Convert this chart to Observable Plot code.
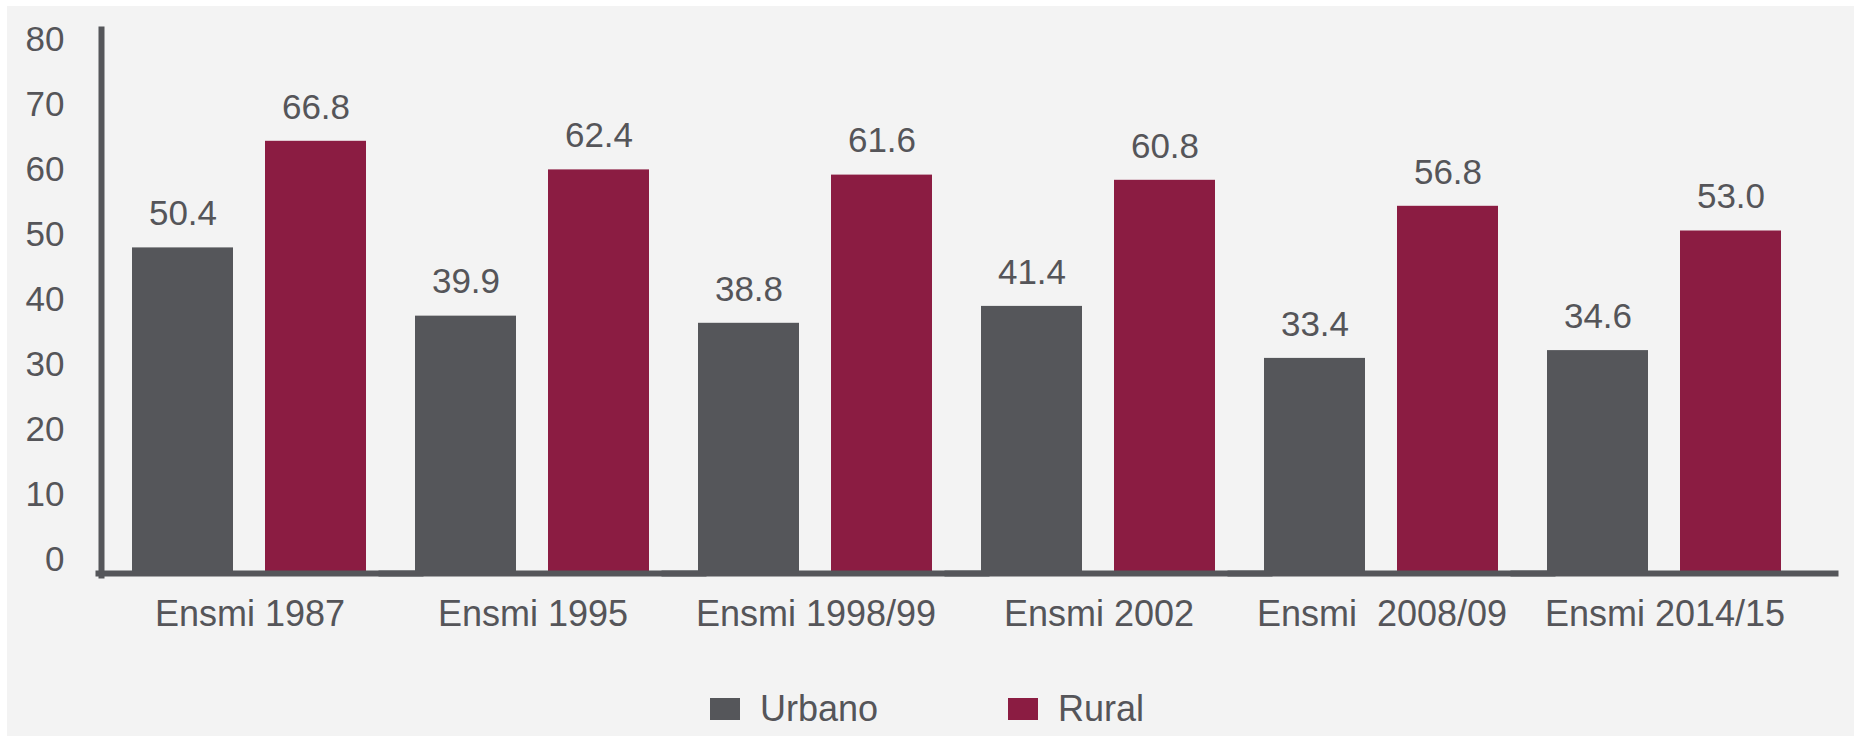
<!DOCTYPE html>
<html>
<head>
<meta charset="utf-8">
<script src="https://cdn.jsdelivr.net/npm/d3@7"></script>
<script src="https://cdn.jsdelivr.net/npm/@observablehq/plot@0.6"></script>
<style>
  html, body { margin: 0; padding: 0; background: #ffffff; overflow: hidden; }
  #panel { position: absolute; left: 7px; top: 6px; width: 1847px; height: 730px; background: #f3f3f3; }
  #chart { position: absolute; left: 0; top: 0; }
  #chart svg text { white-space: pre; }
  #legend { position: absolute; left: 0; top: 689px; width: 1856px; height: 40px;
            display: flex; align-items: center; padding-left: 710px; box-sizing: border-box;
            font-family: "Liberation Sans", Arial, sans-serif; font-size: 36px; color: #555559; gap: 130px; }
  #legend .item { display: flex; align-items: center; }
  #legend .sw { width: 30px; height: 22px; margin-right: 20px; display: inline-block; }
</style>
</head>
<body>
<div id="panel"></div>
<div id="chart"></div>
<div id="legend"></div>
<script>
const categories = ["Ensmi 1987", "Ensmi 1995", "Ensmi 1998/99", "Ensmi 2002", "Ensmi  2008/09", "Ensmi 2014/15"];
const series = ["Urbano", "Rural"];
const urbano = [50.4, 39.9, 38.8, 41.4, 33.4, 34.6];
const rural = [66.8, 62.4, 61.6, 60.8, 56.8, 53.0];
const yTicks = [0, 10, 20, 30, 40, 50, 60, 70, 80];
const colors = ["#55565a", "#8b1c42"];
const textColor = "#555559";
const axisColor = "#55565a";

const data = [];
categories.forEach((c, i) => {
  data.push({category: c, series: series[0], value: urbano[i]});
  data.push({category: c, series: series[1], value: rural[i]});
});

const plot = Plot.plot({
  width: 1856,
  height: 670,
  marginTop: 29,
  marginBottom: 95,
  marginLeft: 106,
  marginRight: 48,
  style: {background: "transparent", fontFamily: "'Liberation Sans', Arial, sans-serif", fontSize: "35px", color: textColor, overflow: "visible"},
  fx: {domain: categories, padding: 0, axis: null, label: null},
  x: {domain: series, paddingInner: 0.239, paddingOuter: 0.178, axis: null, label: null},
  y: {domain: [0, 84], axis: null, label: null},
  color: {domain: series, range: colors},
  marks: [
    Plot.barY(data, {fx: "category", x: "series", y: "value", fill: "series"}),
    Plot.text(data, {fx: "category", x: "series", y: "value", text: d => d.value.toFixed(1), dy: -34, lineAnchor: "middle", fill: textColor}),
    Plot.frame({anchor: "bottom", stroke: axisColor, strokeWidth: 6, insetLeft: -10, insetRight: -29, insetBottom: 2}),
    Plot.frame({anchor: "left", facetAnchor: "left", stroke: axisColor, strokeWidth: 6, insetLeft: -7}),
    Plot.axisY({ticks: yTicks, tickSize: 0, tickPadding: 44, dy: -16, label: null, tickFormat: d => String(d), fill: textColor}),
    Plot.axisFx({anchor: "bottom", tickSize: 0, tickPadding: 39, lineAnchor: "middle", label: null, fill: textColor, fontSize: 36})
  ]
});
plot.setAttribute("xml:space", "preserve");
document.getElementById("chart").appendChild(plot);

const legend = d3.select("#legend");
series.forEach((s, i) => {
  const item = legend.append("span").attr("class", "item");
  item.append("span").attr("class", "sw").style("background", colors[i]);
  item.append("span").text(s);
});
</script>
</body>
</html>
